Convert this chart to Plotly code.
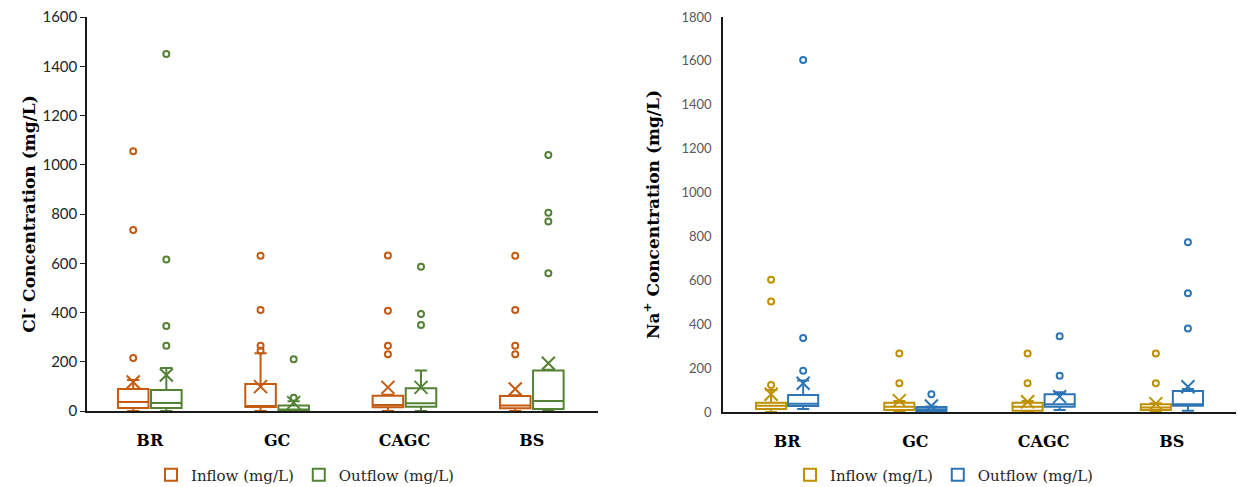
import plotly.graph_objects as go

# Sites and series
categories = ["BR", "GC", "CAGC", "BS"]

# Chloride (mg/L) box statistics per site
cl_in_q1 = [12, 16, 15, 11]
cl_in_med = [37, 20, 24, 22]
cl_in_q3 = [89, 110, 62, 61]
cl_in_lo = [0, 0, 0, 0]
cl_in_hi = [126, 235, 66, 64]
cl_in_mean = [118, 99, 96, 89]
cl_in_out = [[215, 735, 1055], [245, 265, 410, 630], [230, 265, 407, 631], [230, 265, 410, 630]]

cl_out_q1 = [12, 1, 17, 8]
cl_out_med = [32, 6, 31, 41]
cl_out_q3 = [85, 22, 92, 164]
cl_out_lo = [0, 0, 0, 0]
cl_out_hi = [175, 40, 164, 168]
cl_out_mean = [146, 34, 96, 194]
cl_out_out = [[265, 345, 615, 1450], [54, 210], [349, 394, 586], [559, 770, 805, 1040]]

# Sodium (mg/L) box statistics per site
na_in_q1 = [14, 9, 6, 9]
na_in_med = [29, 24, 24, 20]
na_in_q3 = [42, 42, 42, 35]
na_in_lo = [0, 0, 0, 0]
na_in_hi = [100, 50, 50, 40]
na_in_mean = [81, 52, 47, 38]
na_in_out = [[123, 503, 603], [131, 267], [131, 267], [131, 267]]

na_out_q1 = [27, 5, 24, 29]
na_out_med = [38, 12, 35, 35]
na_out_q3 = [77, 23, 81, 96]
na_out_lo = [14, 0, 9, 6]
na_out_hi = [143, 25, 90, 105]
na_out_mean = [131, 27, 70, 115]
na_out_out = [[188, 337, 1604], [81], [165, 345], [380, 541, 773]]

ORANGE = "#C55A11"
GREEN = "#548235"
GOLD = "#BF9000"
BLUE = "#2E75B6"

fig = go.Figure()


def add_series(name, color, q1, med, q3, lo, hi, mean, outliers,
               offset, width, xaxis, yaxis, legend):
    xs = [i + offset for i in range(len(categories))]
    fig.add_trace(go.Box(
        name=name, x=xs, q1=q1, median=med, q3=q3,
        lowerfence=lo, upperfence=hi,
        width=width, whiskerwidth=0.4, boxpoints=False,
        line=dict(color=color, width=2), fillcolor="white",
        xaxis=xaxis, yaxis=yaxis, legend=legend, showlegend=True,
    ))
    # mean markers
    fig.add_trace(go.Scatter(
        x=xs, y=mean, mode="markers",
        marker=dict(symbol="x-thin-open", size=13, color=color,
                    line=dict(color=color, width=2)),
        xaxis=xaxis, yaxis=yaxis, showlegend=False, hoverinfo="y",
    ))
    # outlier points
    ox, oy = [], []
    for x, pts in zip(xs, outliers):
        for v in pts:
            ox.append(x)
            oy.append(v)
    fig.add_trace(go.Scatter(
        x=ox, y=oy, mode="markers",
        marker=dict(symbol="circle-open", size=6, color=color,
                    line=dict(color=color, width=2)),
        xaxis=xaxis, yaxis=yaxis, showlegend=False, hoverinfo="y",
    ))


add_series("Inflow (mg/L)", ORANGE, cl_in_q1, cl_in_med, cl_in_q3, cl_in_lo,
           cl_in_hi, cl_in_mean, cl_in_out, -0.13, 0.24, "x", "y", "legend")
add_series("Outflow (mg/L)", GREEN, cl_out_q1, cl_out_med, cl_out_q3, cl_out_lo,
           cl_out_hi, cl_out_mean, cl_out_out, 0.13, 0.24, "x", "y", "legend")
add_series("Inflow (mg/L)", GOLD, na_in_q1, na_in_med, na_in_q3, na_in_lo,
           na_in_hi, na_in_mean, na_in_out, -0.125, 0.235, "x2", "y2", "legend2")
add_series("Outflow (mg/L)", BLUE, na_out_q1, na_out_med, na_out_q3, na_out_lo,
           na_out_hi, na_out_mean, na_out_out, 0.125, 0.235, "x2", "y2", "legend2")

W, H = 1238, 487
serif = "DejaVu Serif"
sans = "Lato"

cat_axis = dict(
    tickmode="array", tickvals=list(range(len(categories))), ticktext=categories,
    showline=True, linecolor="#1a1a1a", linewidth=2, showgrid=False,
    zeroline=False, ticks="", ticklabelstandoff=14, automargin=False,
    tickfont=dict(family=serif, size=16, color="black", weight="bold"),
)

legend_style = dict(orientation="h", xanchor="center", y=(H - 475) / H,
                    yanchor="middle",
                    font=dict(family=serif, size=15, color="#262626"),
                    itemwidth=30, bgcolor="rgba(0,0,0,0)")

fig.update_layout(
    width=W, height=H,
    margin=dict(l=0, r=0, t=0, b=0, autoexpand=False),
    paper_bgcolor="white", plot_bgcolor="white",
    showlegend=True,
    xaxis=dict(cat_axis, domain=[87 / W, 598 / W], range=[-0.493, 3.52],
               anchor="y"),
    xaxis2=dict(cat_axis, domain=[723 / W, 1236 / W], range=[-0.5, 3.5],
                anchor="y2"),
    yaxis=dict(
        domain=[(H - 411) / H, (H - 17) / H], range=[0, 1600],
        tickvals=list(range(0, 1601, 200)),
        showline=True, linecolor="#1a1a1a", linewidth=1.5,
        ticks="outside", ticklen=5, tickcolor="#1a1a1a",
        showgrid=False, zeroline=False, anchor="x", automargin=False,
        tickfont=dict(family=sans, size=15, color="#262626"),
        title=dict(text="Cl<sup>-</sup> Concentration (mg/L)", standoff=2,
                   font=dict(family=serif, size=17, color="black", weight="bold")),
    ),
    yaxis2=dict(
        domain=[(H - 412) / H, (H - 17) / H], range=[0, 1800],
        tickvals=list(range(0, 1801, 200)),
        showline=True, linecolor="#1a1a1a", linewidth=1.5,
        ticks="", showgrid=False, zeroline=False, anchor="x2", automargin=False,
        ticklabelstandoff=7,
        tickfont=dict(family=sans, size=13, color="#595959"),
        title=dict(text="Na<sup>+</sup> Concentration (mg/L)", standoff=18,
                   font=dict(family=serif, size=17, color="black", weight="bold")),
    ),
    legend=dict(legend_style, x=305 / W),
    legend2=dict(legend_style, x=944 / W),
)

fig.write_html("out.html")
